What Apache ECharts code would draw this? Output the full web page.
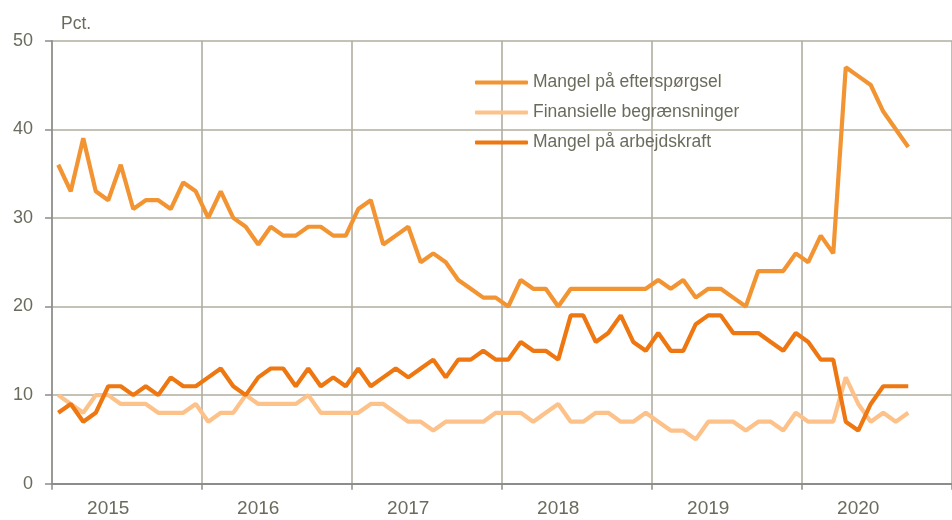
<!DOCTYPE html>
<html>
<head>
<meta charset="utf-8">
<script src="https://cdn.jsdelivr.net/npm/echarts@6/dist/echarts.min.js"></script>
<style>
  html, body { margin: 0; padding: 0; background: #fff; }
  #chart { width: 952px; height: 520px; }
</style>
</head>
<body>
<div id="chart"></div>
<script>
// år på x-aksen, månedlige observationer jan 2015 - sep 2020
var years = ['2015', '2016', '2017', '2018', '2019', '2020'];
var seriesNames = ['Mangel på efterspørgsel', 'Finansielle begrænsninger', 'Mangel på arbejdskraft'];

var efterspoergsel = [
  36, 33, 39, 33, 32, 36, 31, 32, 32, 31, 34, 33,
  30, 33, 30, 29, 27, 29, 28, 28, 29, 29, 28, 28,
  31, 32, 27, 28, 29, 25, 26, 25, 23, 22, 21, 21,
  20, 23, 22, 22, 20, 22, 22, 22, 22, 22, 22, 22,
  23, 22, 23, 21, 22, 22, 21, 20, 24, 24, 24, 26,
  25, 28, 26, 47, 46, 45, 42, 40, 38
];
var finansielle = [
  10, 9, 8, 10, 10, 9, 9, 9, 8, 8, 8, 9,
  7, 8, 8, 10, 9, 9, 9, 9, 10, 8, 8, 8,
  8, 9, 9, 8, 7, 7, 6, 7, 7, 7, 7, 8,
  8, 8, 7, 8, 9, 7, 7, 8, 8, 7, 7, 8,
  7, 6, 6, 5, 7, 7, 7, 6, 7, 7, 6, 8,
  7, 7, 7, 12, 9, 7, 8, 7, 8
];
var arbejdskraft = [
  8, 9, 7, 8, 11, 11, 10, 11, 10, 12, 11, 11,
  12, 13, 11, 10, 12, 13, 13, 11, 13, 11, 12, 11,
  13, 11, 12, 13, 12, 13, 14, 12, 14, 14, 15, 14,
  14, 16, 15, 15, 14, 19, 19, 16, 17, 19, 16, 15,
  17, 15, 15, 18, 19, 19, 17, 17, 17, 16, 15, 17,
  16, 14, 14, 7, 6, 9, 11, 11, 11
];

var months = [];
years.forEach(function (y) {
  for (var m = 1; m <= 12; m++) {
    months.push(y + '-' + (m < 10 ? '0' + m : m));
  }
});

var textColor = '#6b6b5d';
var gridColor = '#b0ae9f';
var axisColor = '#8c8c8c';
var fontFam = '"Liberation Sans", Arial, sans-serif';

var myChart = echarts.init(document.getElementById('chart'));
myChart.setOption({
  animation: false,
  color: ['#f39433', '#fdc18a', '#ee7711'],
  textStyle: { fontFamily: fontFam },
  grid: { left: 52, top: 40.7, width: 910, height: 443 },
  legend: {
    orient: 'vertical',
    left: 475,
    top: 72,
    padding: 0,
    itemWidth: 53,
    itemHeight: 4,
    itemGap: 9,
    icon: 'roundRect',
    data: seriesNames,
    textStyle: { color: textColor, fontSize: 17.5, lineHeight: 21, fontFamily: fontFam }
  },
  xAxis: {
    type: 'category',
    data: months,
    boundaryGap: true,
    axisLine: { lineStyle: { color: axisColor, width: 2 } },
    axisTick: {
      show: true,
      length: 6,
      interval: function (index) { return index % 12 === 0; },
      lineStyle: { color: axisColor, width: 1.5 }
    },
    splitLine: {
      show: true,
      interval: function (index) { return index % 12 === 0; },
      lineStyle: { color: gridColor, width: 1.6 }
    },
    axisLabel: {
      interval: function (index) { return index % 12 === 4; },
      formatter: function (v) { return v.slice(0, 4); },
      color: textColor,
      fontSize: 19,
      margin: 16,
      fontFamily: fontFam
    }
  },
  yAxis: {
    type: 'value',
    min: 0,
    max: 50,
    interval: 10,
    name: 'Pct.',
    nameLocation: 'end',
    nameGap: 8,
    nameTextStyle: { color: textColor, fontSize: 17.5, align: 'left', padding: [0, 0, 0, 9], fontFamily: fontFam },
    axisLine: { show: true, lineStyle: { color: axisColor, width: 1.5 } },
    axisTick: { show: true, length: 7, lineStyle: { color: axisColor, width: 1.5 } },
    splitLine: { show: true, lineStyle: { color: gridColor, width: 1.6 } },
    axisLabel: { color: textColor, fontSize: 18, margin: 19, fontFamily: fontFam }
  },
  series: [
    {
      name: seriesNames[0],
      type: 'line',
      data: efterspoergsel,
      symbol: 'none',
      lineStyle: { width: 4.2 }
    },
    {
      name: seriesNames[1],
      type: 'line',
      data: finansielle,
      symbol: 'none',
      lineStyle: { width: 4.2 }
    },
    {
      name: seriesNames[2],
      type: 'line',
      data: arbejdskraft,
      symbol: 'none',
      lineStyle: { width: 4.2 }
    }
  ]
});
</script>
</body>
</html>
